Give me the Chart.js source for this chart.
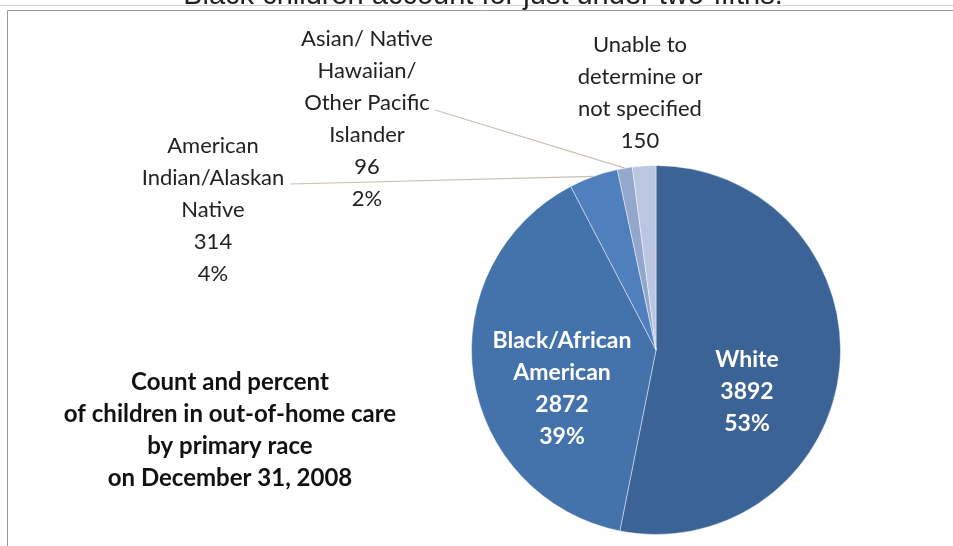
<!DOCTYPE html>
<html>
<head>
<meta charset="utf-8">
<script src="https://cdn.jsdelivr.net/npm/chart.js@4"></script>
<style>
  html, body { margin: 0; padding: 0; background: #fff; }
  #wrap { position: relative; width: 953px; height: 546px; overflow: hidden; }
</style>
</head>
<body>
<div id="wrap"><canvas id="raceChart" width="953" height="546"></canvas></div>
<script>
const categories = ['White', 'Black/African American', 'American Indian/Alaskan Native',
    'Asian/ Native Hawaiian/ Other Pacific Islander', 'Unable to determine or not specified'];
const counts = [3892, 2872, 314, 96, 150];
const labelLines = [
    ['White', '3892', '53%'],
    ['Black/African', 'American', '2872', '39%'],
    ['American', 'Indian/Alaskan', 'Native', '314', '4%'],
    ['Asian/ Native', 'Hawaiian/', 'Other Pacific', 'Islander', '96', '2%'],
    ['Unable to', 'determine or', 'not specified', '150']
];
const sliceColors = ['#3c6395', '#4472aa', '#4f80bd', '#93a6cc', '#bbc7e1'];

const noteLines = ['Count and percent', 'of children in out-of-home care', 'by primary race', 'on December 31, 2008'];
const titleText = 'Black children account for just under two-fifths.';

// where each label block sits (text only), and which slices get a leader line
const labelSpots = [
    { x: 747, y: 392, color: '#ffffff', inside: true, leader: false },
    { x: 562, y: 389, color: '#ffffff', inside: true, leader: false },
    { x: 213, y: 210, color: '#222222', inside: false, leader: { x: 290, y: 184 } },
    { x: 367, y: 119, color: '#222222', inside: false, leader: { x: 435, y: 110 } },
    { x: 640, y: 93, color: '#222222', inside: false, leader: false }
];

const outerFont = '22px Lato, "Open Sans", sans-serif';
const innerFont = 'bold 23px Lato, "Open Sans", sans-serif';

const decorPlugin = {
    id: 'decor',
    beforeDraw(chart) {
        const ctx = chart.ctx;
        ctx.save();
        ctx.fillStyle = '#ffffff';
        ctx.fillRect(0, 0, chart.width, chart.height);
        // outer frame
        ctx.strokeStyle = '#d4d4d4';
        ctx.lineWidth = 1;
        ctx.beginPath();
        ctx.moveTo(0, 5.5); ctx.lineTo(chart.width, 5.5);
        ctx.stroke();
        ctx.strokeStyle = '#9a9a9a';
        ctx.beginPath();
        ctx.moveTo(7.5, chart.height); ctx.lineTo(7.5, 10.5); ctx.lineTo(chart.width, 10.5);
        ctx.stroke();
        // title, cut off at top of picture
        ctx.fillStyle = '#222';
        ctx.font = '29px "Liberation Sans", Arial, sans-serif';
        ctx.textAlign = 'center';
        ctx.textBaseline = 'alphabetic';
        ctx.fillText(titleText, 483, 4);
        ctx.restore();
    },
    afterDatasetsDraw(chart) {
        const ctx = chart.ctx;
        const arcs = chart.getDatasetMeta(0).data;
        ctx.save();
        // leader lines
        ctx.strokeStyle = '#c9c0b4';
        ctx.lineWidth = 1.2;
        arcs.forEach((arc, i) => {
            const spot = labelSpots[i];
            if (!spot.leader) return;
            const mid = (arc.startAngle + arc.endAngle) / 2;
            const ex = arc.x + Math.cos(mid) * arc.outerRadius;
            const ey = arc.y + Math.sin(mid) * arc.outerRadius;
            ctx.beginPath();
            ctx.moveTo(spot.leader.x, spot.leader.y);
            ctx.lineTo(ex, ey);
            ctx.stroke();
        });
        // data labels
        ctx.textAlign = 'center';
        ctx.textBaseline = 'middle';
        labelLines.forEach((lines, i) => {
            const spot = labelSpots[i];
            const step = 32;
            const top = spot.y - (lines.length - 1) * step / 2;
            ctx.font = spot.inside ? innerFont : outerFont;
            ctx.fillStyle = spot.color;
            lines.forEach((t, j) => ctx.fillText(t, spot.x, top + j * step));
        });
        // note
        ctx.fillStyle = '#111';
        ctx.font = 'bold 24px Lato, "Open Sans", sans-serif';
        noteLines.forEach((t, j) => ctx.fillText(t, 230, 382 + j * 32));
        ctx.restore();
    }
};

new Chart(document.getElementById('raceChart'), {
    type: 'pie',
    data: {
        labels: categories,
        datasets: [{
            data: counts,
            backgroundColor: sliceColors,
            borderColor: 'rgba(255,255,255,0.45)',
            borderWidth: 1
        }]
    },
    options: {
        responsive: false,
        animation: false,
        layout: { padding: { top: 165, bottom: 11, left: 471, right: 112 } },
        plugins: {
            legend: { display: false },
            tooltip: { enabled: false },
            title: { display: false }
        }
    },
    plugins: [decorPlugin]
});
</script>
</body>
</html>
